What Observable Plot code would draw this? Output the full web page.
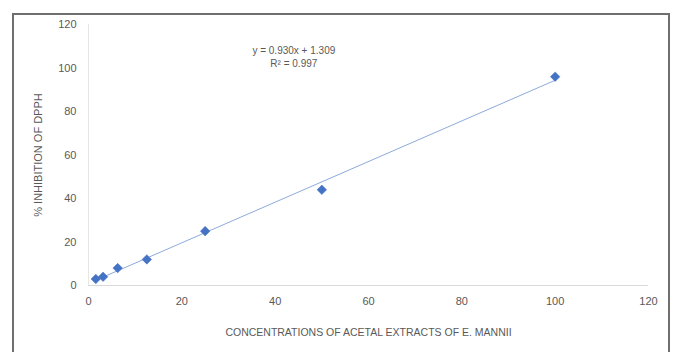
<!DOCTYPE html>
<html>
<head>
<meta charset="utf-8">
<script src="https://cdn.jsdelivr.net/npm/d3@7"></script>
<script src="https://cdn.jsdelivr.net/npm/@observablehq/plot@0.6"></script>
<style>
  html, body { margin: 0; padding: 0; background: #fff; }
  #wrap { position: relative; width: 676px; height: 352px; overflow: hidden; }
  #frame { position: absolute; left: 12px; top: 13px; width: 658px; height: 360px;
           border: 2px solid #6f6f6f; box-sizing: border-box; pointer-events: none; }
</style>
</head>
<body>
<div id="wrap"><div id="frame"></div></div>
<script>
// Data
const concentrations = [1.5625, 3.125, 6.25, 12.5, 25, 50, 100];
const inhibition = [3, 4, 8, 12, 25, 44, 96];
const xTicks = [0, 20, 40, 60, 80, 100, 120];
const yTicks = [0, 20, 40, 60, 80, 100, 120];
const equationLines = ["y = 0.930x + 1.309", "R² = 0.997"];
const equationX = [44, 44];
const equationY = [108, 102];

const points = concentrations.map((c, i) => ({x: c, y: inhibition[i]}));
const eq = equationLines.map((t, i) => ({t, x: equationX[i], y: equationY[i]}));

const font = "'Liberation Sans Narrow', 'Liberation Sans', sans-serif";

const chart = Plot.plot({
  width: 676,
  height: 352,
  marginLeft: 88,
  marginRight: 28,
  marginTop: 24,
  marginBottom: 67,
  style: {fontFamily: font, fontSize: "11px", color: "#595959", background: "transparent"},
  x: {domain: [0, 120], ticks: xTicks, tickSize: 0, tickPadding: 12, label: null},
  y: {domain: [0, 120], ticks: yTicks, tickSize: 0, tickPadding: 12, label: null},
  marks: [
    Plot.ruleY([0], {stroke: "#d9d9d9", strokeWidth: 1}),
    Plot.ruleX([0], {stroke: "#e6e6e6", strokeWidth: 1}),
    Plot.axisX({ticks: xTicks, tickSize: 0, tickPadding: 12, fill: "#595959", fontSize: 11}),
    Plot.axisY({ticks: yTicks, tickSize: 0, tickPadding: 12, fill: "#595959", fontSize: 11}),
    Plot.linearRegressionY(points, {x: "x", y: "y", stroke: "#8eaadb", strokeWidth: 1, ci: 0}),
    Plot.dot(points, {x: "x", y: "y", symbol: "diamond2", r: 4.3, fill: "#4472c4", stroke: "#4472c4", strokeWidth: 0.5}),
    Plot.text(eq, {x: "x", y: "y", text: "t", fill: "#595959", fontSize: 10, textAnchor: "middle"}),
    Plot.text(["CONCENTRATIONS OF ACETAL EXTRACTS OF E. MANNII"], {frameAnchor: "bottom", dy: 50, fill: "#595959", fontSize: 10.5, textAnchor: "middle"}),
    Plot.text(["% INHIBITION OF DPPH"], {frameAnchor: "left", dx: -50, rotate: -90, fill: "#595959", fontSize: 11, textAnchor: "middle"})
  ]
});
document.getElementById("wrap").prepend(chart);
</script>
</body>
</html>
